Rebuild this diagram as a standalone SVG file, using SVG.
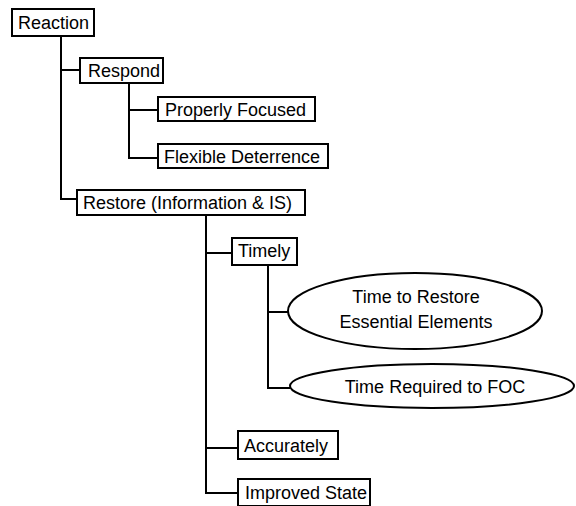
<svg xmlns="http://www.w3.org/2000/svg" width="576" height="506" viewBox="0 0 576 506">
<style>
.b{fill:#fff;stroke:#000;stroke-width:2}
.c{fill:none;stroke:#000;stroke-width:2}
text{font-family:"Liberation Sans",Arial,sans-serif;font-size:18px;fill:#000}
</style>
<rect width="576" height="506" fill="#fff"/>
<g id="connectors">
<path class="c" d="M61 36V199H77M61 70H80"/>
<path class="c" d="M129 82V158H158M129 110H158"/>
<path class="c" d="M206 215V493H238M206 253H232M206 448H238"/>
<path class="c" d="M268 266V388H290M268 312H288"/>
</g>
<g id="reaction"><rect class="b" x="12" y="9" width="82" height="27"/><text x="18" y="29">Reaction</text></g>
<g id="respond"><rect class="b" x="80" y="58" width="83" height="25"/><text x="88" y="77">Respond</text></g>
<g id="properly"><rect class="b" x="158" y="97" width="157" height="24"/><text x="165" y="116">Properly Focused</text></g>
<g id="flexible"><rect class="b" x="158" y="144" width="170" height="24"/><text x="164" y="163">Flexible Deterrence</text></g>
<g id="restore"><rect class="b" x="77" y="190" width="228" height="25"/><text x="83" y="209">Restore (Information &amp; IS)</text></g>
<g id="timely"><rect class="b" x="232" y="238" width="65" height="27"/><text x="238" y="257">Timely</text></g>
<g id="time-restore"><ellipse class="b" cx="415" cy="311" rx="127" ry="38"/><text x="416" y="303" text-anchor="middle">Time to Restore</text><text x="416" y="328" text-anchor="middle">Essential Elements</text></g>
<g id="time-foc"><ellipse class="b" cx="432" cy="386" rx="142" ry="22"/><text x="435" y="393" text-anchor="middle">Time Required to FOC</text></g>
<g id="accurately"><rect class="b" x="238" y="431" width="100" height="28"/><text x="244" y="452">Accurately</text></g>
<g id="improved"><rect class="b" x="238" y="479" width="132" height="27"/><text x="245" y="499">Improved State</text></g>
</svg>
